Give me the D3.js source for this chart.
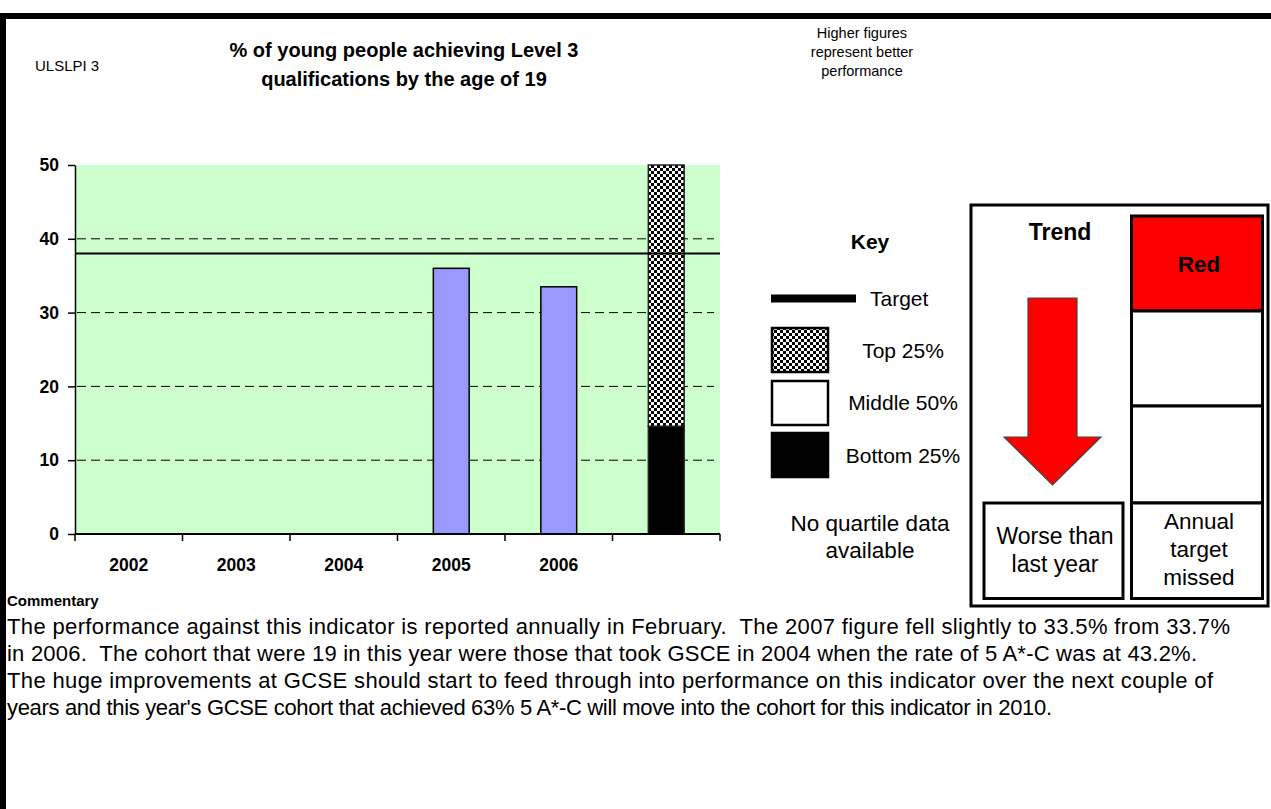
<!DOCTYPE html>
<html>
<head>
<meta charset="utf-8">
<script src="https://cdn.jsdelivr.net/npm/d3@7"></script>
<style>
  body { margin: 0; background: #fff; }
  svg text { font-family: "Liberation Sans", Arial, sans-serif; fill: #000; white-space: pre; }
</style>
</head>
<body>
<div id="wrapper"></div>
<script>
// chart values
const years = ["2002", "2003", "2004", "2005", "2006", ""];
const values = [null, null, null, 36, 33.5, null];
const target = 38;
const quartileYear = "";
const quartileBottom = 14.6;
const quartileMiddle = 0;
const quartileTop = 35.4;
const yTicks = [0, 10, 20, 30, 40, 50];

const titleLines = ["% of young people achieving Level 3", "qualifications by the age of 19"];
const noteLines = ["Higher figures", "represent better", "performance"];
const commentary = [
  "The performance against this indicator is reported annually in February.  The 2007 figure fell slightly to 33.5% from 33.7%",
  "in 2006.  The cohort that were 19 in this year were those that took GSCE in 2004 when the rate of 5 A*-C was at 43.2%.",
  "The huge improvements at GCSE should start to feed through into performance on this indicator over the next couple of",
  "years and this year's GCSE cohort that achieved 63% 5 A*-C will move into the cohort for this indicator in 2010."
];
// rendered widths of the commentary lines (layout only)
const commentaryWidths = [1223, 1190, 1206, 1045];

const width = 1271, height = 809;
const plot = { left: 75, right: 720, top: 165, bottom: 534 };

const svg = d3.select("#wrapper").append("svg")
  .attr("width", width)
  .attr("height", height);

// checker pattern for top quartile
const defs = svg.append("defs");
const pat = defs.append("pattern")
  .attr("id", "checker")
  .attr("patternUnits", "userSpaceOnUse")
  .attr("width", 6).attr("height", 6);
pat.append("rect").attr("width", 6).attr("height", 6).attr("fill", "#fff");
pat.append("rect").attr("width", 3).attr("height", 3).attr("fill", "#000");
pat.append("rect").attr("x", 3).attr("y", 3).attr("width", 3).attr("height", 3).attr("fill", "#000");

// page frame
svg.append("rect").attr("x", 0).attr("y", 13).attr("width", width).attr("height", 6).attr("fill", "#000");
svg.append("rect").attr("x", 0).attr("y", 13).attr("width", 6).attr("height", height - 13).attr("fill", "#000");

// header
svg.append("text").attr("x", 35).attr("y", 71).style("font-size", "15px").text("ULSLPI 3");

svg.append("g").selectAll("text")
  .data(titleLines)
  .enter().append("text")
  .attr("x", 404)
  .attr("y", (d, i) => 57 + i * 29)
  .attr("text-anchor", "middle")
  .style("font-size", "20px")
  .style("font-weight", "bold")
  .text(d => d);

svg.append("g").selectAll("text")
  .data(noteLines)
  .enter().append("text")
  .attr("x", 862)
  .attr("y", (d, i) => 38 + i * 19)
  .attr("text-anchor", "middle")
  .style("font-size", "14.5px")
  .text(d => d);

// scales
const x = d3.scaleBand()
  .domain(d3.range(years.length))
  .range([plot.left, plot.right]);

const y = d3.scaleLinear()
  .domain([0, 50])
  .range([plot.bottom, plot.top]);

const barW = x.bandwidth() / 3;

// plot background
svg.append("rect")
  .attr("x", plot.left).attr("y", plot.top)
  .attr("width", plot.right - plot.left).attr("height", plot.bottom - plot.top)
  .attr("fill", "#CCFFCC");

// dashed gridlines
svg.append("g").selectAll("line")
  .data(yTicks.filter(d => d > 0 && d < 50))
  .enter().append("line")
  .attr("x1", plot.left + 2).attr("x2", plot.right - 6)
  .attr("y1", d => y(d)).attr("y2", d => y(d))
  .attr("stroke", "#000")
  .attr("stroke-width", 1)
  .attr("stroke-dasharray", "9,5");

// bars
svg.append("g").selectAll("rect")
  .data(values.map((v, i) => ({ i, v })).filter(d => d.v != null))
  .enter().append("rect")
  .attr("x", d => x(d.i) + x.bandwidth() / 2 - barW / 2)
  .attr("y", d => y(d.v))
  .attr("width", barW)
  .attr("height", d => y(0) - y(d.v))
  .attr("fill", "#9999FF")
  .attr("stroke", "#000")
  .attr("stroke-width", 1.5);

// quartile stack
const qi = years.indexOf(quartileYear);
const stack = d3.stack().keys(["bottom", "middle", "top"])(
  [{ bottom: quartileBottom, middle: quartileMiddle, top: quartileTop }]
);
const qFill = { bottom: "#000", middle: "#fff", top: "url(#checker)" };
svg.append("g").selectAll("rect")
  .data(stack)
  .enter().append("rect")
  .attr("x", x(qi) + x.bandwidth() / 2 - barW / 2)
  .attr("y", s => y(Math.min(50, s[0][1])))
  .attr("width", barW)
  .attr("height", s => y(s[0][0]) - y(Math.min(50, s[0][1])))
  .attr("fill", s => qFill[s.key])
  .attr("stroke", "#222")
  .attr("stroke-width", 1.5);

// target line
svg.append("line")
  .attr("x1", plot.left).attr("x2", plot.right)
  .attr("y1", y(target)).attr("y2", y(target))
  .attr("stroke", "#000")
  .attr("stroke-width", 2);

// y axis
const yAxis = svg.append("g")
  .attr("transform", `translate(${plot.left},0)`)
  .call(d3.axisLeft(y).tickValues(yTicks).tickSize(7).tickPadding(9).tickSizeOuter(0));
yAxis.selectAll("text").style("font-size", "17.5px").style("font-weight", "bold")
  .style("font-family", "'Liberation Sans', Arial, sans-serif");
yAxis.select(".domain").attr("stroke-width", 1.5);
yAxis.selectAll(".tick line").attr("stroke-width", 1.5);

// x axis
const xAxis = svg.append("g")
  .attr("transform", `translate(0,${plot.bottom})`);
xAxis.append("line")
  .attr("x1", plot.left).attr("x2", plot.right)
  .attr("stroke", "#000").attr("stroke-width", 2);
xAxis.selectAll("line.tk")
  .data(d3.range(years.length + 1))
  .enter().append("line")
  .attr("class", "tk")
  .attr("x1", i => plot.left + i * x.step())
  .attr("x2", i => plot.left + i * x.step())
  .attr("y1", 0).attr("y2", 7)
  .attr("stroke", "#000").attr("stroke-width", 1.5);
xAxis.selectAll("text")
  .data(years)
  .enter().append("text")
  .attr("x", (d, i) => x(i) + x.bandwidth() / 2)
  .attr("y", 37)
  .attr("text-anchor", "middle")
  .style("font-size", "17.5px")
  .style("font-weight", "bold")
  .text(d => d);

// key
const key = svg.append("g");
key.append("text").attr("x", 870).attr("y", 249).attr("text-anchor", "middle")
  .style("font-size", "21px").style("font-weight", "bold").text("Key");
key.append("rect").attr("x", 771).attr("y", 294.5).attr("width", 85).attr("height", 8).attr("fill", "#000");
key.append("text").attr("x", 870).attr("y", 306).style("font-size", "21px").text("Target");

const keyItems = [
  { label: "Top 25%", fill: "url(#checker)", y: 328, ty: 358 },
  { label: "Middle 50%", fill: "#fff", y: 381, ty: 410 },
  { label: "Bottom 25%", fill: "#000", y: 433, ty: 463 }
];
key.selectAll("rect.kb")
  .data(keyItems)
  .enter().append("rect")
  .attr("class", "kb")
  .attr("x", 772).attr("y", d => d.y)
  .attr("width", 56).attr("height", 44)
  .attr("fill", d => d.fill)
  .attr("stroke", "#000").attr("stroke-width", 2.5);
key.selectAll("text.kl")
  .data(keyItems)
  .enter().append("text")
  .attr("class", "kl")
  .attr("x", 903).attr("y", d => d.ty)
  .attr("text-anchor", "middle")
  .style("font-size", "21px")
  .text(d => d.label);
key.selectAll("text.nq")
  .data(["No quartile data", "available"])
  .enter().append("text")
  .attr("class", "nq")
  .attr("x", 870).attr("y", (d, i) => 531 + i * 27)
  .attr("text-anchor", "middle")
  .style("font-size", "22.5px")
  .text(d => d);

// trend / RAG box
const tb = svg.append("g");
tb.append("rect").attr("x", 971).attr("y", 205).attr("width", 297).attr("height", 401)
  .attr("fill", "#fff").attr("stroke", "#000").attr("stroke-width", 3);
tb.append("text").attr("x", 1060).attr("y", 240).attr("text-anchor", "middle")
  .style("font-size", "23px").style("font-weight", "bold").text("Trend");

const arrow = d3.path();
arrow.moveTo(1028, 298);
arrow.lineTo(1077, 298);
arrow.lineTo(1077, 437);
arrow.lineTo(1101, 437);
arrow.lineTo(1052.5, 485);
arrow.lineTo(1004, 437);
arrow.lineTo(1028, 437);
arrow.closePath();
tb.append("path").attr("d", arrow.toString())
  .attr("fill", "#FF0000").attr("stroke", "#444").attr("stroke-width", 1.2);

const ragCells = [
  { y0: 216, y1: 311, fill: "#FF0000" },
  { y0: 311, y1: 406, fill: "#fff" },
  { y0: 406, y1: 503, fill: "#fff" },
  { y0: 503, y1: 598.5, fill: "#fff" }
];
tb.selectAll("rect.rag")
  .data(ragCells)
  .enter().append("rect")
  .attr("class", "rag")
  .attr("x", 1131.5).attr("y", d => d.y0)
  .attr("width", 131).attr("height", d => d.y1 - d.y0)
  .attr("fill", d => d.fill)
  .attr("stroke", "#000").attr("stroke-width", 3);
tb.append("text").attr("x", 1199).attr("y", 272).attr("text-anchor", "middle")
  .style("font-size", "22.5px").style("font-weight", "bold").text("Red");
tb.selectAll("text.am")
  .data(["Annual", "target", "missed"])
  .enter().append("text")
  .attr("class", "am")
  .attr("x", 1199).attr("y", (d, i) => 529 + i * 28)
  .attr("text-anchor", "middle")
  .style("font-size", "22.5px")
  .text(d => d);

tb.append("rect").attr("x", 984).attr("y", 503).attr("width", 139).attr("height", 95.5)
  .attr("fill", "#fff").attr("stroke", "#000").attr("stroke-width", 3);
tb.selectAll("text.wt")
  .data(["Worse than", "last year"])
  .enter().append("text")
  .attr("class", "wt")
  .attr("x", 1055).attr("y", (d, i) => 544 + i * 28)
  .attr("text-anchor", "middle")
  .style("font-size", "23px")
  .text(d => d);

// commentary
svg.append("text").attr("x", 7).attr("y", 606).style("font-size", "15px").style("font-weight", "bold").text("Commentary");
svg.append("g").selectAll("text")
  .data(commentary)
  .enter().append("text")
  .attr("x", 7)
  .attr("y", (d, i) => 634 + i * 27)
  .attr("textLength", (d, i) => commentaryWidths[i])
  .attr("lengthAdjust", "spacing")
  .style("font-size", "22px")
  .text(d => d);
</script>
</body>
</html>
